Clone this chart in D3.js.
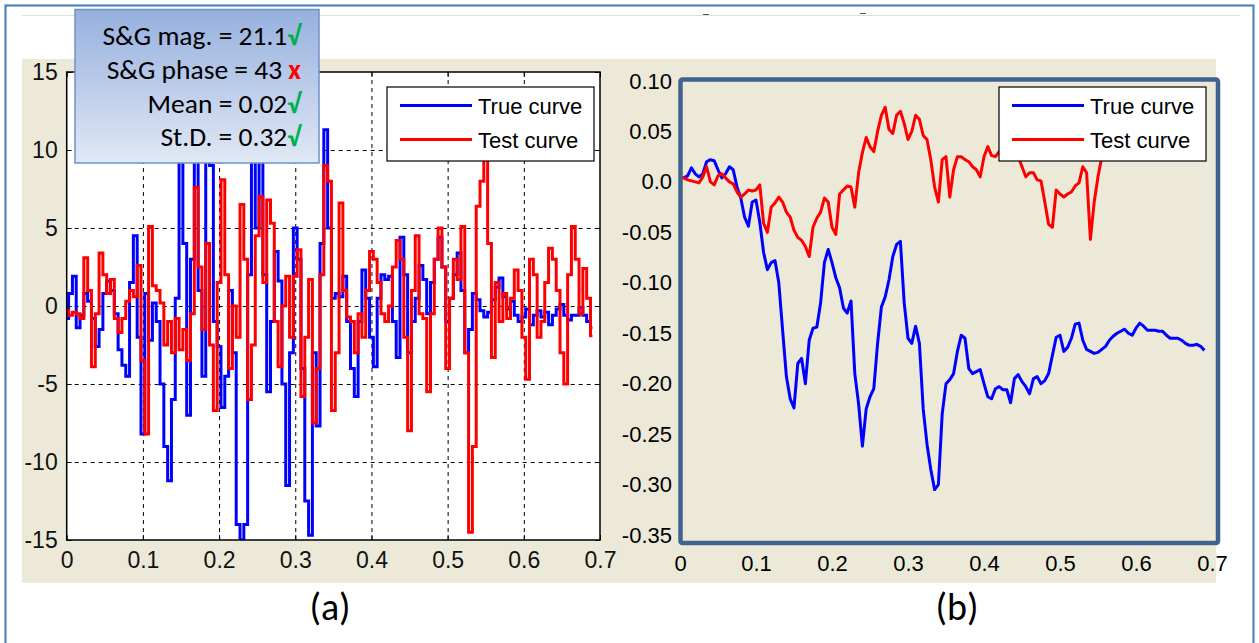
<!DOCTYPE html>
<html><head><meta charset="utf-8">
<script src="https://cdn.jsdelivr.net/npm/d3@7"></script>
<style>html,body{margin:0;padding:0;background:#fff;overflow:hidden}</style>
</head><body><svg id="c" width="1259" height="643"></svg>
<script>
// ---------------- data ----------------
const sampleStep = 0.005; // seconds between samples
const seriesNames = ["True curve", "Test curve"];
const seriesColors = ["#0000FF", "#FF0000"];

// panel (a): magnitude curves
const leftTrue = [-0.8,0.8,1.9,-1.4,-0.6,0.8,0.3,-0.8,-2.6,-1.5,
0.8,1.6,1.0,-0.5,-2.8,-3.8,-4.5,1.5,4.5,-2.0,
-8.2,0.8,-2.2,0.2,-1.0,-5.0,-9.0,-11.2,-6.0,0.5,
12.0,4.0,-7.0,3.0,12.5,1.0,-4.5,12.0,9.0,-1.0,
-2.6,-6.5,-4.5,1.0,-3.0,-14.0,-15.0,-14.0,2.0,12.0,
5.0,12.0,2.0,-5.5,-1.0,3.5,1.6,-5.0,-11.5,-3.0,
5.0,3.0,-4.0,-12.5,-14.7,-3.0,-7.7,4.0,11.3,5.0,
0.5,0.8,0.6,1.9,-1.0,-4.0,-5.8,-1.0,2.3,0.5,
-2.0,-3.9,0.5,2.0,1.7,1.9,-1.0,-3.3,4.4,2.0,
-3.0,-1.0,0.5,2.6,1.7,-0.5,1.5,3.0,4.4,2.5,
-1.0,0.5,2.0,3.4,1.0,-3.0,-1.5,0.8,0.4,-0.3,
-0.7,-0.4,0.4,1.2,1.8,0.6,-0.2,0.3,-0.6,-1.0,
-0.7,-0.2,-1.2,-0.6,-0.3,-0.7,-0.4,-1.2,-0.6,-0.2,
0.1,-0.6,-0.9,-0.6,-0.6,-0.1,-0.6,-1.0,-1.4];
const leftTest = [-0.3,-0.6,-0.4,-0.5,-0.8,3.1,1.0,-3.9,-0.5,3.4,
2.0,0.8,1.7,-0.8,-1.7,-0.8,0.3,1.0,0.6,2.6,
-3.5,-8.2,5.1,1.3,1.0,0.2,-2.5,-1.0,-3.0,-0.8,
-2.8,-1.5,-3.5,-0.5,7.6,2.5,-1.5,4.0,-2.5,-6.7,
1.5,8.1,2.0,-4.0,0.0,-2.0,6.5,3.0,-6.0,-2.5,
4.5,7.0,1.5,6.8,5.3,-1.0,-3.9,0.0,1.9,-2.0,
1.9,3.6,-5.8,-2.0,1.7,-7.5,-4.0,2.0,9.0,8.0,
-6.7,-3.0,6.6,1.0,-0.7,-1.0,-3.0,-0.5,-2.0,1.0,
3.5,3.0,1.5,-0.5,-1.0,0.0,2.5,4.2,3.0,-2.0,
-8.0,1.0,4.5,-0.5,-0.8,-5.5,-0.5,3.0,5.0,2.5,
-4.0,0.5,3.0,1.7,5.1,-3.0,-14.5,-9.0,6.4,8.0,
9.5,4.0,-3.3,1.5,-1.0,0.8,-0.8,0.5,2.3,1.0,
-2.0,-4.7,3.0,2.0,-2.0,-1.0,1.5,3.7,3.0,1.0,
-3.0,-5.0,2.0,5.1,3.0,-0.5,2.4,0.5,-1.9];

// panel (b): cumulative curves
const rightTrue = [0.004,0.004,0.006,0.014,0.008,0.005,0.008,0.020,0.022,0.021,
0.012,0.004,0.008,0.015,0.012,-0.005,-0.016,-0.035,-0.044,-0.020,
-0.018,-0.040,-0.070,-0.087,-0.080,-0.078,-0.100,-0.147,-0.193,-0.215,
-0.224,-0.180,-0.175,-0.200,-0.157,-0.145,-0.144,-0.120,-0.080,-0.067,
-0.080,-0.095,-0.105,-0.125,-0.130,-0.118,-0.190,-0.220,-0.262,-0.225,
-0.213,-0.205,-0.160,-0.124,-0.114,-0.097,-0.074,-0.062,-0.059,-0.120,
-0.155,-0.160,-0.143,-0.160,-0.225,-0.260,-0.285,-0.305,-0.300,-0.230,
-0.200,-0.196,-0.190,-0.168,-0.152,-0.155,-0.185,-0.190,-0.188,-0.186,
-0.200,-0.213,-0.215,-0.205,-0.203,-0.206,-0.206,-0.219,-0.195,-0.191,
-0.198,-0.203,-0.210,-0.195,-0.193,-0.200,-0.197,-0.190,-0.172,-0.154,
-0.152,-0.168,-0.164,-0.155,-0.141,-0.140,-0.157,-0.166,-0.168,-0.170,
-0.169,-0.166,-0.163,-0.157,-0.153,-0.150,-0.148,-0.146,-0.150,-0.152,
-0.145,-0.140,-0.143,-0.147,-0.147,-0.147,-0.148,-0.148,-0.152,-0.155,
-0.155,-0.155,-0.157,-0.160,-0.162,-0.162,-0.161,-0.163,-0.167];
const rightTest = [0.004,0.004,0.002,0.001,0.000,-0.001,0.005,0.015,0.000,-0.003,
0.006,0.008,0.004,0.000,-0.002,-0.010,-0.015,-0.012,-0.008,-0.009,
-0.008,-0.003,-0.041,-0.050,-0.025,-0.021,-0.015,-0.020,-0.030,-0.035,
-0.048,-0.055,-0.058,-0.064,-0.074,-0.045,-0.036,-0.030,-0.016,-0.020,
-0.045,-0.052,-0.012,-0.008,-0.004,-0.005,-0.025,0.009,0.029,0.044,
0.035,0.030,0.050,0.066,0.074,0.052,0.048,0.066,0.070,0.058,
0.042,0.050,0.066,0.062,0.046,0.042,0.022,-0.005,-0.020,0.022,
0.025,-0.015,0.012,0.025,0.025,0.022,0.020,0.015,0.012,0.005,
0.025,0.035,0.026,0.025,0.030,0.035,0.040,0.038,0.030,0.025,
0.015,0.005,0.009,0.009,0.002,0.001,-0.020,-0.042,-0.045,-0.008,
-0.012,-0.015,-0.012,-0.010,-0.004,-0.001,0.015,0.009,-0.057,-0.020,
0.005,0.025];

const xTicks = [0, 0.1, 0.2, 0.3, 0.4, 0.5, 0.6, 0.7];
const xTickLabels = ["0", "0.1", "0.2", "0.3", "0.4", "0.5", "0.6", "0.7"];
const leftYTicks = [15, 10, 5, 0, -5, -10, -15];
const leftYTickLabels = ["15", "10", "5", "0", "-5", "-10", "-15"];
const rightYTicks = [0.10, 0.05, 0.0, -0.05, -0.10, -0.15, -0.20, -0.25, -0.30, -0.35];
const rightYTickLabels = ["0.10", "0.05", "0.0", "-0.05", "-0.10", "-0.15", "-0.20", "-0.25", "-0.30", "-0.35"];
const statLabels = ["S&G mag. = 21.1", "S&G phase = 43 ", "Mean = 0.02", "St.D. = 0.32"];
const statMarks = ["√", "x", "√", "√"];
const statMarkColors = ["#00B050", "#FF0000", "#00B050", "#00B050"];
const panelLabels = ["(a)", "(b)"];

// ---------------- drawing ----------------
const svg = d3.select("#c");
const defs = svg.append("defs");
svg.append("rect").attr("width", 1259).attr("height", 643).attr("fill", "#fff");

// outer frame + faint top rule
svg.append("rect").attr("x", 5.5).attr("y", 5.5).attr("width", 1248).attr("height", 660)
  .attr("fill", "none").attr("stroke", "#4F81BD").attr("stroke-width", 2.2);
svg.append("line").attr("x1", 22).attr("x2", 1240).attr("y1", 15.5).attr("y2", 15.5)
  .attr("stroke", "#E2E0D6").attr("stroke-width", 1);
svg.append("line").attr("x1", 703).attr("x2", 709).attr("y1", 14.5).attr("y2", 14.5).attr("stroke", "#555");
svg.append("line").attr("x1", 860).attr("x2", 866).attr("y1", 13.5).attr("y2", 13.5).attr("stroke", "#555");

// beige figure background
svg.append("rect").attr("x", 22).attr("y", 59).attr("width", 1194).attr("height", 524).attr("fill", "#ECE9D8");

const times = arr => arr.map((v, i) => ({ t: i * sampleStep, v }));

// ===== Panel (a) =====
const L = { x0: 66.7, x1: 600, y0: 72, y1: 540 };
const xL = d3.scaleLinear().domain([0, 0.7]).range([L.x0, L.x1]);
const yL = d3.scaleLinear().domain([-15, 15]).range([L.y1, L.y0]);
const gA = svg.append("g");
gA.append("rect").attr("x", L.x0).attr("y", L.y0).attr("width", L.x1 - L.x0).attr("height", L.y1 - L.y0).attr("fill", "#fff");

// grid
gA.append("g").attr("transform", `translate(0,${L.y1})`)
  .call(d3.axisBottom(xL).tickValues(xTicks.slice(1, -1)).tickSize(-(L.y1 - L.y0)).tickFormat(""))
  .call(g => g.select(".domain").remove())
  .call(g => g.selectAll("line").attr("stroke", "#000").attr("stroke-dasharray", "4,4"));
gA.append("g").attr("transform", `translate(${L.x0},0)`)
  .call(d3.axisLeft(yL).tickValues(leftYTicks.slice(1, -1)).tickSize(-(L.x1 - L.x0)).tickFormat(""))
  .call(g => g.select(".domain").remove())
  .call(g => g.selectAll("line").attr("stroke", "#000").attr("stroke-dasharray", "4,4"));

defs.append("clipPath").attr("id", "clipA").append("rect")
  .attr("x", L.x0).attr("y", L.y0).attr("width", L.x1 - L.x0).attr("height", L.y1 - L.y0);
const lineA = d3.line().x(d => xL(d.t)).y(d => yL(d.v)).curve(d3.curveStep);
[leftTrue, leftTest].forEach((s, i) => {
  gA.append("path").attr("clip-path", "url(#clipA)").attr("d", lineA(times(s)))
    .attr("fill", "none").attr("stroke", seriesColors[i]).attr("stroke-width", 3).attr("stroke-linejoin", "miter");
});

// axes (inward ticks, box)
const fontA = "'Liberation Sans', Arial, sans-serif";
const styleAxisA = g => {
  g.select(".domain").remove();
  g.selectAll("line").attr("stroke", "#000");
  g.selectAll("text").attr("font-family", fontA).attr("font-size", 23).attr("fill", "#111");
};
gA.append("g").attr("transform", `translate(0,${L.y1})`)
  .call(d3.axisBottom(xL).tickValues(xTicks).tickSize(-5).tickPadding(12).tickFormat((d, i) => xTickLabels[i]))
  .call(styleAxisA);
gA.append("g").attr("transform", `translate(0,${L.y0})`)
  .call(d3.axisTop(xL).tickValues(xTicks).tickSize(-5).tickFormat("")).call(styleAxisA);
gA.append("g").attr("transform", `translate(${L.x0},0)`)
  .call(d3.axisLeft(yL).tickValues(leftYTicks).tickSize(-5).tickPadding(9).tickFormat((d, i) => leftYTickLabels[i]))
  .call(styleAxisA);
gA.append("g").attr("transform", `translate(${L.x1},0)`)
  .call(d3.axisRight(yL).tickValues(leftYTicks).tickSize(-5).tickFormat("")).call(styleAxisA);
gA.append("rect").attr("x", L.x0).attr("y", L.y0).attr("width", L.x1 - L.x0).attr("height", L.y1 - L.y0)
  .attr("fill", "none").attr("stroke", "#000").attr("stroke-width", 1.5);

// legend
function legend(g, x, y, w, h, font) {
  g.append("rect").attr("x", x).attr("y", y).attr("width", w).attr("height", h)
    .attr("fill", "#fff").attr("stroke", "#000").attr("stroke-width", 1.2);
  seriesNames.forEach((n, i) => {
    const cy = y + 18.5 + i * 34;
    g.append("line").attr("x1", x + 13).attr("x2", x + 85).attr("y1", cy).attr("y2", cy)
      .attr("stroke", seriesColors[i]).attr("stroke-width", 3);
    g.append("text").attr("x", x + 91).attr("y", cy + 8).text(n)
      .attr("font-family", font).attr("font-size", 22).attr("fill", "#000");
  });
}
legend(gA, 387, 87, 207, 74, fontA);

// info box
const grad = defs.append("linearGradient").attr("id", "infoGrad").attr("x1", 0).attr("x2", 0).attr("y1", 0).attr("y2", 1);
grad.append("stop").attr("offset", 0).attr("stop-color", "#96B0DE");
grad.append("stop").attr("offset", 1).attr("stop-color", "#E1E8F5");
svg.append("rect").attr("x", 75).attr("y", 9.5).attr("width", 244).attr("height", 153.5)
  .attr("fill", "url(#infoGrad)").attr("stroke", "#6E92C8").attr("stroke-width", 1.5);
const fontB = "Carlito, Calibri, Lato, 'Open Sans', sans-serif";
statLabels.forEach((s, i) => {
  const t = svg.append("text").attr("x", 301).attr("y", 45 + i * 33.8).attr("text-anchor", "end")
    .attr("font-family", fontB).attr("font-size", 27.5).attr("fill", "#000");
  t.append("tspan").text(s);
  t.append("tspan").text(statMarks[i]).attr("fill", statMarkColors[i]).attr("font-weight", "bold");
});

// ===== Panel (b) =====
const R = { x0: 680, x1: 1212, y0: 81, y1: 535 };
const xR = d3.scaleLinear().domain([0, 0.7]).range([R.x0, R.x1]);
const yR = d3.scaleLinear().domain([-0.35, 0.10]).range([R.y1, R.y0]);
const gB = svg.append("g");
defs.append("clipPath").attr("id", "clipB").append("rect")
  .attr("x", 682).attr("y", 81).attr("width", 534).attr("height", 460);
const lineB = d3.line().x(d => xR(d.t)).y(d => yR(d.v));
[rightTrue, rightTest].forEach((s, i) => {
  gB.append("path").attr("clip-path", "url(#clipB)").attr("d", lineB(times(s)))
    .attr("fill", "none").attr("stroke", seriesColors[i]).attr("stroke-width", 3).attr("stroke-linejoin", "round");
});
gB.append("rect").attr("x", 680.5).attr("y", 79.5).attr("width", 537.5).attr("height", 463.5).attr("rx", 2)
  .attr("fill", "none").attr("stroke", "#41628F").attr("stroke-width", 4.5);
legend(gB, 999, 87, 207, 74, fontA);

const fontR = "'Liberation Sans', Arial, sans-serif";
gB.append("g").attr("transform", `translate(${R.x0},0)`)
  .call(d3.axisLeft(yR).tickValues(rightYTicks).tickSize(0).tickPadding(8).tickFormat((d, i) => rightYTickLabels[i]))
  .call(g => g.select(".domain").remove())
  .call(g => g.selectAll("text").attr("font-family", fontR).attr("font-size", 22).attr("fill", "#000"));
gB.append("g").attr("transform", `translate(0,543)`)
  .call(d3.axisBottom(xR).tickValues(xTicks).tickSize(0).tickPadding(12).tickFormat((d, i) => xTickLabels[i]))
  .call(g => g.select(".domain").remove())
  .call(g => g.selectAll("text").attr("font-family", fontR).attr("font-size", 22).attr("fill", "#000"));

// panel captions
[[330, panelLabels[0]], [957, panelLabels[1]]].forEach(([x, s]) => {
  svg.append("text").attr("x", x).attr("y", 620).attr("text-anchor", "middle").text(s)
    .attr("font-family", fontB).attr("font-size", 38).attr("fill", "#000");
});
</script></body></html>
